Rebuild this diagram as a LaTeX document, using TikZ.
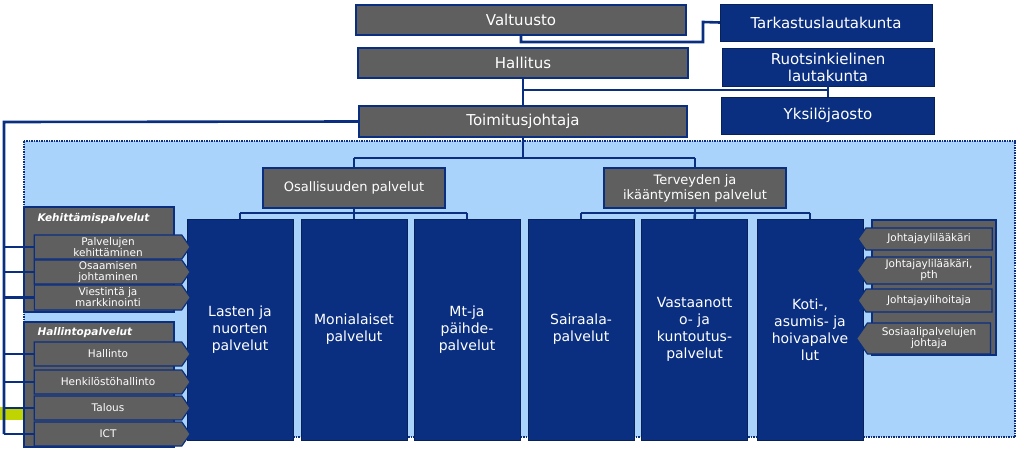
\documentclass[tikz,border=0pt]{standalone}
\usepackage{fontspec}
\setmainfont{DejaVu Sans}
\usetikzlibrary{shapes.symbols}
\definecolor{harmaa}{HTML}{5F5F5F}
\definecolor{tummasin}{HTML}{0A2F80}
\definecolor{vaalsin}{HTML}{A9D3FB}
\definecolor{vihrea}{HTML}{BFD400}
\tikzset{
  johto/.style={draw=tummasin,line width=1.8pt,fill=harmaa,text=white,inner sep=0pt,align=center,font=\fontsize{15}{16}\selectfont},
  elin/.style={draw=tummasin!70!black,fill=tummasin,text=white,inner sep=0pt,align=center,font=\fontsize{15}{17}\selectfont},
  sarake/.style={draw=tummasin!70!black,fill=tummasin,text=white,inner sep=0pt,align=center,minimum width=106pt,minimum height=221pt,font=\fontsize{14}{17}\selectfont},
  ryhma/.style={draw=tummasin,line width=1.5pt,fill=harmaa},
  tuki/.style={signal,draw=tummasin,line width=1.2pt,fill=harmaa,text=white,inner sep=0pt,align=center,signal pointer angle=110,font=\fontsize{10.5}{11}\selectfont},
  viiva/.style={draw=tummasin,line width=2.6pt}
}
\begin{document}
\begin{tikzpicture}[x=1pt,y=-1pt]
\useasboundingbox (0,0) rectangle (1024,455);
% tausta
\fill[vaalsin] (24,141) rectangle (1015,437);
\draw[tummasin,densely dotted,line width=1.5pt] (24,141) rectangle (1015,437);
\fill[vihrea] (0,407) rectangle (24,420);
% ylin johto
\node[johto,minimum width=330pt,minimum height=30pt] (valt) at (521,20) {Valtuusto};
\node[johto,minimum width=330pt,minimum height=30pt] (hall) at (523,63) {Hallitus};
\node[johto,minimum width=328pt,minimum height=31pt] (toim) at (523,121.5) {Toimitusjohtaja};
\node[elin,minimum width=212pt,minimum height=37pt] (tark) at (826,22.5) {Tarkastuslautakunta};
\node[elin,minimum width=212pt,minimum height=38pt] (ruot) at (828,67) {Ruotsinkielinen\\lautakunta};
\node[elin,minimum width=213pt,minimum height=37pt] (yksi) at (828,115.5) {Yksilöjaosto};
\coordinate (v1) at (521,42);
\coordinate (v2) at (703,42);
\coordinate (v3) at (703,22);
\coordinate (h1) at (523,90);
\coordinate (h2) at (828,90);
\draw[viiva] (valt.south) -- (v1) -- (v2) -- (v3) -- (tark.west);
\draw[viiva] (hall.south) -- (toim.north);
\draw[viiva] (h1) -- (h2);
\draw[viiva] (ruot.south) -- (yksi.north);
% toimialat
\node[johto,minimum width=182pt,minimum height=40pt,font=\fontsize{13}{14}\selectfont] (osal) at (354,188) {Osallisuuden palvelut};
\node[johto,minimum width=182pt,minimum height=40pt,font=\fontsize{13}{15}\selectfont] (terv) at (695,188) {Terveyden ja\\ikääntymisen palvelut};
\coordinate (t1) at (523,158);
\coordinate (t2) at (354,158);
\coordinate (t3) at (695,158);
\draw[viiva] (toim.south) -- (t1);
\draw[viiva] (t2) -- (t3);
\draw[viiva] (t2) -- (osal.north);
\draw[viiva] (t3) -- (terv.north);
% palvelusarakkeet
\node[sarake] (last) at (240,329.5) {Lasten ja\\nuorten\\palvelut};
\node[sarake] (moni) at (354,329.5) {Monialaiset\\palvelut};
\node[sarake] (mtpa) at (467,329.5) {Mt-ja\\päihde-\\palvelut};
\node[sarake] (sair) at (581,329.5) {Sairaala-\\palvelut};
\node[sarake] (vast) at (694.5,329.5) {Vastaanott\\o- ja\\kuntoutus-\\palvelut};
\node[sarake] (koti) at (810,329.5) {Koti-,\\asumis- ja\\hoivapalve\\lut};
\coordinate (o1) at (354,213);
\coordinate (o2) at (240,213);
\coordinate (o3) at (467,213);
\coordinate (p1) at (695,213);
\coordinate (p2) at (581,213);
\coordinate (p3) at (810,213);
\draw[viiva] (osal.south) -- (o1);
\draw[viiva] (o2) -- (o3);
\draw[viiva] (terv.south) -- (p1);
\draw[viiva] (p2) -- (p3);
\foreach \c/\s in {o2/last,o1/moni,o3/mtpa,p2/sair,p1/vast,p3/koti}
  \draw[viiva] (\c) -- (\s.north);
% tukipalvelut vasemmalla
\draw[ryhma] (24,207) rectangle (174,312);
\node[text=white,font=\fontsize{10.5}{11}\selectfont\bfseries\itshape,anchor=west] (kehi) at (34,219) {Kehittämispalvelut};
\draw[ryhma] (24,322) rectangle (174,447);
\node[text=white,font=\fontsize{10.5}{11}\selectfont\bfseries\itshape,anchor=west] (hpal) at (34,333) {Hallintopalvelut};
\foreach \n/\y/\h/\t in {pkeh/247/24/{Palvelujen\\kehittäminen},
    ojoh/272/24/{Osaamisen\\johtaminen},
    vies/297.5/25/{Viestintä ja\\markkinointi},
    hinto/354/24/{Hallinto},
    henk/382/24/{Henkilöstöhallinto},
    talo/408/24/{Talous},
    ict/434/24/{ICT}}{
  \node[tuki,signal to=east,minimum width=156pt,minimum height=\h pt] (\n) at (108,\y) {\t};
  \coordinate (\n-v) at (4,\y);
  \draw[viiva] (\n-v) -- (\n.west);
}
\coordinate (vas) at (4,122);
\draw[viiva] (toim.west) -- (vas) -- (ict-v);
% johtajat oikealla
\draw[ryhma] (872,220) rectangle (996,355);
\foreach \n/\y/\h/\t in {jyl/239/22/{Johtajaylilääkäri},
    jylp/270.5/27/{Johtajaylilääkäri,\\pth},
    jyh/300.5/23/{Johtajaylihoitaja},
    sosj/338.5/31/{Sosiaalipalvelujen\\johtaja}}
  \node[tuki,signal to=west,minimum width=134pt,minimum height=\h pt] (\n) at (929,\y) {\t};
\end{tikzpicture}
\end{document}
